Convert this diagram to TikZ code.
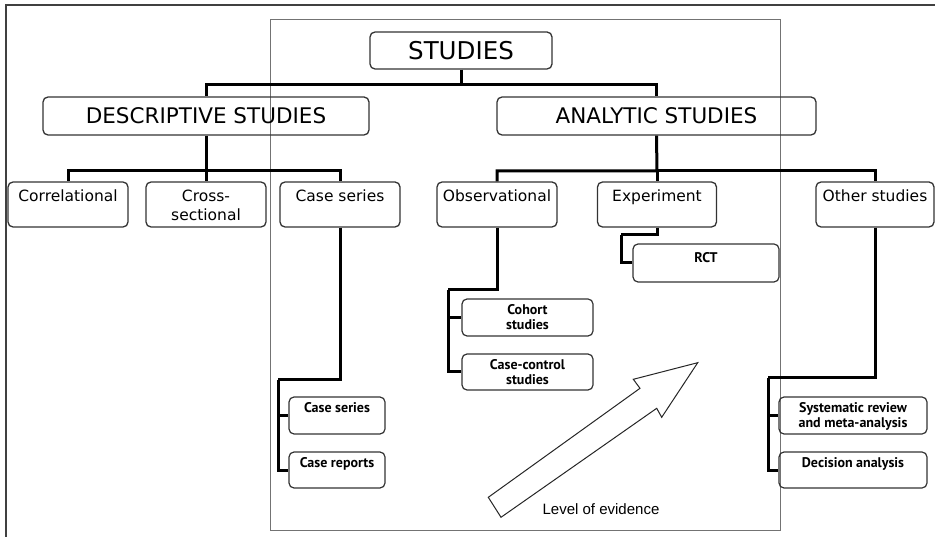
\documentclass[tikz,border=0pt]{standalone}
\usepackage{fontspec}
\setmainfont{DejaVu Sans}
\newfontfamily\subf{PT Sans}
\newfontfamily\levf{Liberation Sans}
\begin{document}
\begin{tikzpicture}[x=1pt,y=-1pt,
  box/.style={draw=black!80, line width=1.3pt, rounded corners=5pt, inner sep=0pt},
  box2/.style={box, minimum width=120pt, minimum height=45pt},
  box3/.style={box, line width=1.2pt, minimum height=37pt},
  conn/.style={draw=black, line width=3pt},
  lab/.style={anchor=north, inner sep=0pt, align=center},
  lab2/.style={lab, font=\fontsize{15.5}{19}\selectfont, yshift=-8pt},
  lab3/.style={lab, font=\subf\bfseries\fontsize{14}{14.5}\selectfont, yshift=-6pt}]
\useasboundingbox (0,0) rectangle (935,537);
% frames
\draw[black!75, line width=2pt] (935,5) -- (6,5) -- (6,537);
\draw[black!55, line width=0.8pt] (270,19) rectangle (780,530);
% level 0/1
\node[box, minimum width=182pt, minimum height=37pt, font=\fontsize{24.5}{28}\selectfont] (studies) at (461,50.5) {STUDIES};
\node[box, minimum width=326pt, minimum height=38pt, font=\fontsize{21.5}{26}\selectfont] (desc) at (206,116) {DESCRIPTIVE STUDIES};
\node[box, minimum width=319pt, minimum height=38pt, font=\fontsize{21.5}{26}\selectfont] (anal) at (656.5,116) {ANALYTIC STUDIES};
% level 2
\node[box2, label={[lab2]north:Correlational}] (corr) at (68,204.5) {};
\node[box2, label={[lab2]north:Cross-\\sectional}] (cross) at (206,204.5) {};
\node[box2, label={[lab2]north:Case series}] (case) at (340,204.5) {};
\node[box2, label={[lab2]north:Observational}] (obs) at (497,204.5) {};
\node[box2, minimum width=119pt, label={[lab2]north:Experiment}] (exp) at (657,204.5) {};
\node[box2, minimum width=118pt, label={[lab2]north:Other studies}] (oth) at (875,204.5) {};
% level 3
\node[box3, minimum width=96pt, label={[lab3]north:Case series}] (cs) at (337,415.5) {};
\node[box3, minimum width=96pt, minimum height=36pt, label={[lab3]north:Case reports}] (cr) at (337,470) {};
\node[box3, minimum width=131pt, label={[lab3]north:Cohort\\studies}] (coh) at (527.5,317.5) {};
\node[box3, minimum width=131pt, minimum height=36pt, label={[lab3]north:Case-control\\studies}] (cc) at (527.5,372) {};
\node[box3, minimum width=146pt, minimum height=38pt, label={[lab3, yshift=-3pt]north:RCT}] (rct) at (706,263) {};
\node[box3, minimum width=148pt, label={[lab3]north:Systematic review\\and meta-analysis}] (sys) at (853,415.5) {};
\node[box3, minimum width=148pt, minimum height=36pt, label={[lab3]north:Decision analysis}] (dec) at (853,470) {};
% junctions
\coordinate (j1) at (461,85);
\coordinate (j2) at (206,171);
\coordinate (j3) at (657,171);
\coordinate (j4) at (278,380);
\coordinate (j5) at (448,290);
\coordinate (j6) at (621,235);
\coordinate (j7) at (768,378);
% connectors
\draw[conn] (studies.south) -- (j1) -| (desc.north);
\draw[conn] (j1) -| (anal.north);
\draw[conn] (desc.south) -- (j2) -| (corr.north);
\draw[conn] (j2) -- (cross.north);
\draw[conn] (j2) -| (case.north);
\draw[conn] (anal.south) -- (j3) -| (obs.north);
\draw[conn] (j3) -- (exp.north);
\draw[conn] (j3) -| (oth.north);
\draw[conn] (case.south) |- (j4);
\draw[conn] (j4) |- (cs.west);
\draw[conn] (j4) |- (cr.west);
\draw[conn] (obs.south) |- (j5);
\draw[conn] (j5) |- (coh.west);
\draw[conn] (j5) |- (cc.west);
\draw[conn] (exp.south) |- (j6);
\draw[conn] (j6) |- (rct.west);
\draw[conn] (oth.south) |- (j7);
\draw[conn] (j7) |- (sys.west);
\draw[conn] (j7) |- (dec.west);
% arrow
\draw[black!85, line width=1pt, fill=white, line join=miter] (488.3,497.3) -- (640,388.3) -- (633.3,379.3) -- (697.7,362.7) -- (661.7,417.3) -- (656.7,408.3) -- (501,517.3) -- cycle;
\node[font=\levf\fontsize{15}{18}\selectfont, inner sep=0pt] (lev) at (601,509) {Level of evidence};
\end{tikzpicture}
\end{document}
